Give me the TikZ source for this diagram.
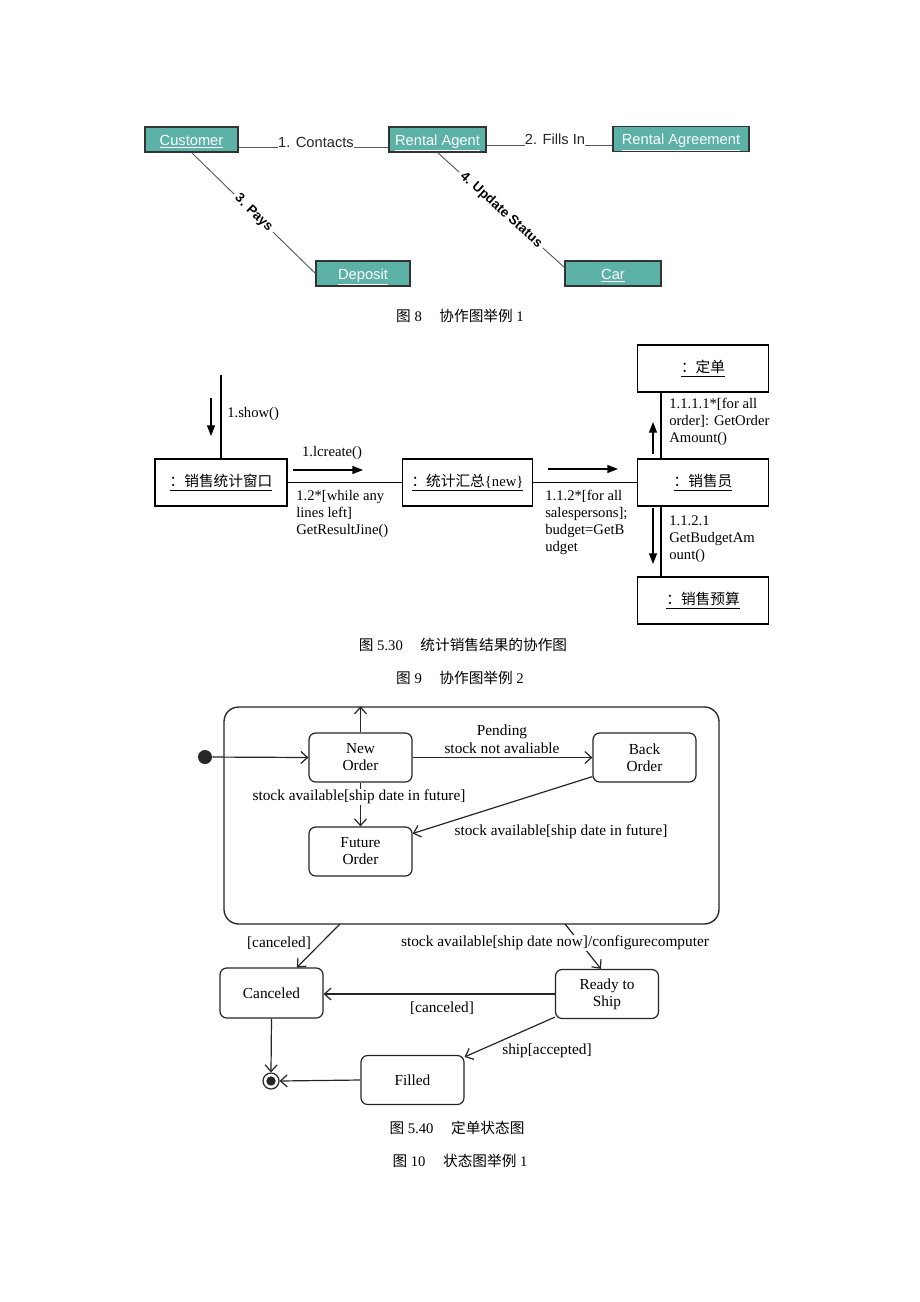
\documentclass[tikz,border=0pt]{standalone}
\usepackage{fontspec}
\setmainfont{Liberation Serif}
\setsansfont{Liberation Sans}
\newfontfamily\cjk{Noto Sans CJK SC}
\usetikzlibrary{arrows.meta}
\definecolor{teal1}{RGB}{92,178,166}
\begin{document}
\begin{tikzpicture}[x=0.75pt,y=-0.75pt,
  topbox/.style={draw=black!80, fill=teal1, line width=0.8pt, minimum height=18.75pt, inner sep=0pt, text height=11pt, text depth=2pt, font=\sffamily\fontsize{11}{13}\selectfont, text=white},
  toplbl/.style={font=\sffamily\fontsize{11}{13}\selectfont, text=black!85, inner sep=0pt},
  toprot/.style={font=\sffamily\bfseries\fontsize{10}{12}\selectfont, sloped, fill=white, inner sep=2.5pt, text=black},
  topline/.style={draw=black!65, line width=0.7pt},
  midbox/.style={draw=black, line width=0.8pt, fill=white, minimum height=35.25pt, minimum width=98pt, inner sep=0pt, font=\fontsize{11}{13}\selectfont},
  midlbl/.style={font=\fontsize{11}{12.75}\selectfont, align=left, inner sep=0pt},
  midline/.style={draw=black, line width=0.8pt},
  midarrow/.style={line width=1pt, -{Triangle[length=8pt,width=6pt]}},
  state/.style={draw=black!85, rounded corners=5pt, line width=0.9pt, minimum width=77.25pt, minimum height=36.75pt, align=center, font=\fontsize{11.5}{12.75}\selectfont, inner sep=0pt},
  trans/.style={draw=black!85, line width=0.9pt, -{Straight Barb[length=5pt,width=9pt]}},
  slbl/.style={font=\fontsize{11.5}{13.5}\selectfont, inner sep=0pt, align=center},
  captxt/.style={font=\fontsize{11}{13}\selectfont, inner sep=0pt}]
\fill[white] (0,0) rectangle (920,1302);
\useasboundingbox (0,0) rectangle (920,1302);

% ---------- Figure 8 ----------
\node[topbox, minimum width=69.75pt] (Customer) at (191.5,139.5) {\underline{Customer}};
\node[topbox, minimum width=72.75pt] (Agent) at (437.5,139.5) {\underline{Rental Agent}};
\node[topbox, minimum width=102pt] (Agreement) at (681,139) {\underline{Rental Agreement}};
\node[topbox, minimum width=70.5pt] (Deposit) at (363,273.5) {\underline{Deposit}};
\node[topbox, minimum width=72pt] (Car) at (613,273.5) {\underline{Car}};
\node[toplbl, anchor=base] (contacts) at (316,147) {1. Contacts};
\draw[topline] (Customer.east |- contacts.base) -- (contacts.base west);
\draw[topline] (contacts.base east) -- (Agent.west |- contacts.base);
\node[toplbl, anchor=base] (fills) at (555,145) {2. Fills In};
\draw[topline] (Agent.east |- fills.base) -- (fills.base west);
\draw[topline] (fills.base east) -- (Agreement.west |- fills.base);
\draw[topline] (Customer.south) -- node[toprot] (pays) {3. Pays} (Deposit.west);
\draw[topline] (Agent.south) -- node[toprot] (upd) {4. Update Status} ([yshift=4.5pt]Car.west);
\node[captxt] (cap8) at (460,316) {{\cjk 图} 8\hspace{1.2em}{\cjk 协作图举例} 1};

% ---------- Figure 9 ----------
\node[midbox, minimum width=99pt] (W1) at (221,482.5) {\underline{{\cjk ：销售统计窗口}}};
\node[midbox] (W2) at (467.5,482.5) {\underline{{\cjk ：统计汇总}\{new\}}};
\node[midbox] (W3) at (703,482.5) {\underline{{\cjk ：销售员}}};
\node[midbox] (W4) at (703,368.5) {\underline{{\cjk ：定单}}};
\node[midbox] (W5) at (703,600.5) {\underline{{\cjk ：销售预算}}};
\coordinate (showtop) at (221,375);
\draw[midline] (showtop) -- (W1.north);
\coordinate (a1s) at (211,398); \coordinate (a1e) at (211,436);
\draw[midarrow] (a1s) -- (a1e);
\node[midlbl, anchor=west] (show) at (227,414) {1.show()};
\draw[midline] (W1.east) -- (W2.west);
\coordinate (a2s) at (293,470); \coordinate (a2e) at (363,470);
\draw[midarrow] (a2s) -- (a2e);
\node[midlbl] (create) at (332,453) {1.lcreate()};
\node[midlbl, anchor=north west] (while) at (296,490) {1.2*[while any\\lines left]\\GetResultJine()};
\draw[midline] (W2.east) -- (W3.west);
\coordinate (a3s) at (548,469); \coordinate (a3e) at (618,469);
\draw[midarrow] (a3s) -- (a3e);
\node[midlbl, anchor=north west] (forall) at (545,490) {1.1.2*[for all\\salespersons];\\budget=GetB\\udget};
\draw[midline] ([xshift=-31.5pt]W3.north) -- ([xshift=-31.5pt]W4.south);
\coordinate (a4s) at (653,454); \coordinate (a4e) at (653,422);
\draw[midarrow] (a4s) -- (a4e);
\node[midlbl, anchor=north west] (order) at (669,398) {1.1.1.1*[for all\\order]: GetOrder\\Amount()};
\draw[midline] ([xshift=-31.5pt]W3.south) -- ([xshift=-31.5pt]W5.north);
\coordinate (a5s) at (653,508); \coordinate (a5e) at (653,564);
\draw[midarrow] (a5s) -- (a5e);
\node[midlbl, anchor=north west] (budget) at (669,516) {1.1.2.1\\GetBudgetAm\\ount()};
\node[captxt] (cap530) at (463,645) {{\cjk 图} 5.30\hspace{1.2em}{\cjk 统计销售结果的协作图}};
\node[captxt] (cap9) at (460,678) {{\cjk 图} 9\hspace{1.2em}{\cjk 协作图举例} 2};

% ---------- Figure 10 ----------
\node[draw=black!85, line width=1pt, rounded corners=11pt, minimum width=371.25pt, minimum height=162.75pt, inner sep=0pt] (comp) at (471.5,815.5) {};
\node[circle, fill=black!85, minimum size=10.5pt, inner sep=0pt] (init) at (205,757) {};
\node[state] (new) at (360.5,757.5) {New\\Order};
\node[state] (back) at (644.5,757.5) {Back\\Order};
\node[state] (future) at (360.5,851.5) {Future\\Order};
\node[state, minimum height=37.5pt] (canceled) at (271.5,993) {Canceled};
\node[state] (ready) at (607,994) {Ready to\\Ship};
\node[state] (filled) at (412.5,1080) {Filled};
\node[circle, draw=black!85, line width=0.9pt, minimum size=12pt, inner sep=0pt] (final) at (271,1081) {};
\node[circle, fill=black!85, minimum size=7pt, inner sep=0pt] (finaldot) at (final.center) {};

\draw[trans] (init) -- (new.west);
\draw[trans] (new.north) -- (new.north |- comp.north);
\draw[trans] (new.east) -- (back.west);
\node[slbl] (pending) at (502,739) {Pending\\stock not avaliable};
\draw[trans] (new.south) -- (future.north);
\node[slbl, fill=white, inner sep=1pt] (sa1) at (359,797) {stock available[ship date in future]};
\draw[trans] ([yshift=4.5pt]back.south west) -- ([yshift=13.5pt]future.east);
\node[slbl] (sa2) at (561,832) {stock available[ship date in future]};
\coordinate (cx1) at (340,924);
\coordinate (cx2) at (565,924);
\draw[trans] (cx1) -- ([xshift=19pt]canceled.north);
\node[slbl] (canc1) at (279,943) {[canceled]};
\draw[trans] (cx2) -- ([xshift=-4.5pt]ready.north);
\node[slbl, fill=white, inner sep=1pt] (now) at (555,943) {stock available[ship date now]/configurecomputer};
\draw[trans] (ready.west) -- (canceled.east |- ready.west);
\node[slbl] (canc2) at (442,1008) {[canceled]};
\draw[trans] ([yshift=1.5pt]ready.south west) -- ([yshift=-1.5pt]filled.north east);
\node[slbl] (ship) at (547,1051) {ship[accepted]};
\draw[trans] (canceled.south) -- (final.north);
\draw[trans] (filled.west) -- (final.east);
\node[captxt] (cap540) at (457,1128) {{\cjk 图} 5.40\hspace{1.2em}{\cjk 定单状态图}};
\node[captxt] (cap10) at (460,1161) {{\cjk 图} 10\hspace{1.2em}{\cjk 状态图举例} 1};
\end{tikzpicture}
\end{document}
